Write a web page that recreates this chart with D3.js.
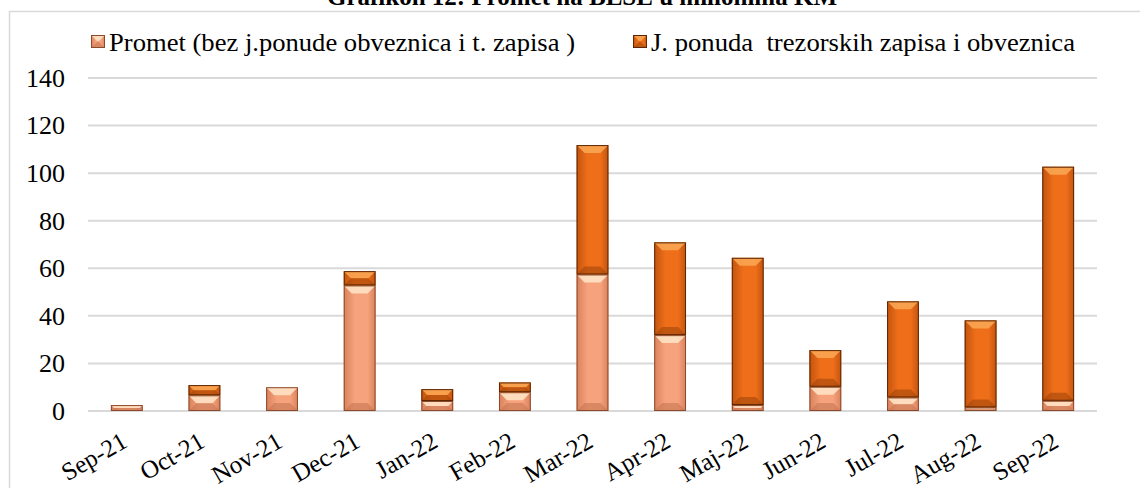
<!DOCTYPE html>
<html>
<head>
<meta charset="utf-8">
<script src="https://cdn.jsdelivr.net/npm/d3@7/dist/d3.min.js"></script>
<style>
  body { margin: 0; background: #fff; }
  text { font-family: "Liberation Serif", "Times New Roman", serif; fill: #000; }
</style>
</head>
<body>
<div id="chart"></div>
<script>
// months on the x axis
const months = ["Sep-21", "Oct-21", "Nov-21", "Dec-21", "Jan-22", "Feb-22", "Mar-22",
  "Apr-22", "Maj-22", "Jun-22", "Jul-22", "Aug-22", "Sep-22"];

// promet without public offers (lower part)
const promet = [2.5, 6.6, 10.0, 52.8, 4.2, 7.9, 57.4, 31.9, 2.5, 10.2, 5.7, 1.5, 4.3];

// public offers of treasury bills and bonds (upper part)
const javnaPonuda = [0, 4.3, 0, 6.0, 5.0, 4.1, 54.4, 39.0, 61.9, 15.4, 40.4, 36.6, 98.4];

const yTicks = [0, 20, 40, 60, 80, 100, 120, 140];

const seriesNames = ["Promet (bez j.ponude obveznica i t. zapisa )",
  "J. ponuda  trezorskih zapisa i obveznica"];

const W = 1140, H = 488;
const margin = { left: 88, right: 43, top: 78, bottom: 77 };
const fontPx = 26;

const svg = d3.select("#chart").append("svg")
  .attr("width", W)
  .attr("height", H);

// colour sets for the two series
const styles = [
  { id: "g0", edge: "#d8825e", mid: "#f6a27c", top: "#ffe2c4", bottom: "#c2724f", stroke: "#8c4a2c" },
  { id: "g1", edge: "#c2540e", mid: "#ee6e1a", top: "#f8a552", bottom: "#9c440a", stroke: "#5e2604" }
];

const defs = svg.append("defs");
styles.forEach(s => {
  const g = defs.append("linearGradient").attr("id", s.id)
    .attr("x1", 0).attr("x2", 1).attr("y1", 0).attr("y2", 0);
  g.append("stop").attr("offset", "0%").attr("stop-color", s.edge);
  g.append("stop").attr("offset", "35%").attr("stop-color", s.mid);
  g.append("stop").attr("offset", "75%").attr("stop-color", s.mid);
  g.append("stop").attr("offset", "100%").attr("stop-color", s.edge);
});

// outer frame
svg.append("rect")
  .attr("x", 9.5).attr("y", 11.5)
  .attr("width", 1160).attr("height", 520)
  .attr("fill", "none")
  .attr("stroke", "#d9d9d9")
  .attr("stroke-width", 1.5);

// title (cut off at the top in the reference)
svg.append("text")
  .attr("x", 582).attr("y", 5)
  .attr("text-anchor", "middle")
  .style("font-size", "25px")
  .style("font-weight", "bold")
  .text("Grafikon 12: Promet na BLSE u milionima KM");

const x = d3.scaleBand()
  .domain(months)
  .range([margin.left, W - margin.right])
  .paddingInner(0.59)
  .paddingOuter(0.295);

const y = d3.scaleLinear()
  .domain([0, 140])
  .range([H - margin.bottom, margin.top]);

// gridlines
svg.append("g")
  .selectAll("line")
  .data(yTicks)
  .join("line")
  .attr("x1", margin.left).attr("x2", W - margin.right)
  .attr("y1", d => y(d)).attr("y2", d => y(d))
  .attr("stroke", "#d9d9d9")
  .attr("stroke-width", 2);

// y axis labels
const yAxis = d3.axisLeft(y).tickValues(yTicks).tickSize(0).tickPadding(0);
svg.append("g")
  .attr("transform", `translate(65,0)`)
  .call(yAxis)
  .call(g => g.select(".domain").remove())
  .call(g => g.selectAll("text")
    .style("font-size", fontPx + "px")
    .style("font-family", "Liberation Serif")
    .attr("fill", "#000"));

// x axis labels, rotated
const xAxis = d3.axisBottom(x).tickSize(0);
svg.append("g")
  .attr("transform", `translate(0,${H - margin.bottom})`)
  .call(xAxis)
  .call(g => g.select(".domain").remove())
  .call(g => g.selectAll("text")
    .style("font-size", "25px")
    .style("font-family", "Liberation Serif")
    .attr("fill", "#000")
    .attr("text-anchor", "end")
    .attr("dy", 0)
    .attr("y", 0)
    .attr("transform", "translate(2,35) rotate(-30)"));

// draw one bevelled segment
function bevelBar(g, x0, y0, w, h, s) {
  if (h <= 0) return;
  const b = Math.min(8, h / 2, w / 2);
  g.append("rect")
    .attr("x", x0).attr("y", y0)
    .attr("width", w).attr("height", h)
    .attr("fill", `url(#${s.id})`);
  // top bevel
  g.append("polygon")
    .attr("points", [[x0, y0], [x0 + w, y0], [x0 + w - b, y0 + b], [x0 + b, y0 + b]].join(" "))
    .attr("fill", s.top)
    .attr("opacity", 0.9);
  // bottom bevel
  g.append("polygon")
    .attr("points", [[x0, y0 + h], [x0 + w, y0 + h], [x0 + w - b, y0 + h - b], [x0 + b, y0 + h - b]].join(" "))
    .attr("fill", s.bottom)
    .attr("opacity", 0.55);
  g.append("rect")
    .attr("x", x0 + 0.5).attr("y", y0 + 0.5)
    .attr("width", w - 1).attr("height", Math.max(h - 1, 0))
    .attr("fill", "none")
    .attr("stroke", s.stroke)
    .attr("stroke-width", 1);
}

const bars = svg.append("g");
months.forEach((m, i) => {
  const x0 = x(m), w = x.bandwidth();
  const p = promet[i], j = javnaPonuda[i];
  bevelBar(bars, x0, y(p), w, y(0) - y(p), styles[0]);
  bevelBar(bars, x0, y(p + j), w, y(p) - y(p + j), styles[1]);
});

// legend
const legend = svg.append("g");
const legendItems = [
  { x: 91, textX: 109, len: 466 },
  { x: 633, textX: 651, len: 424 }
];
legendItems.forEach((it, i) => {
  const s = styles[i];
  bevelBar(legend, it.x, 35, 14, 13, s);
  legend.append("text")
    .attr("x", it.textX).attr("y", 51)
    .attr("textLength", it.len)
    .attr("lengthAdjust", "spacingAndGlyphs")
    .style("font-size", fontPx + "px")
    .style("white-space", "pre")
    .text(seriesNames[i]);
});
</script>
</body>
</html>
